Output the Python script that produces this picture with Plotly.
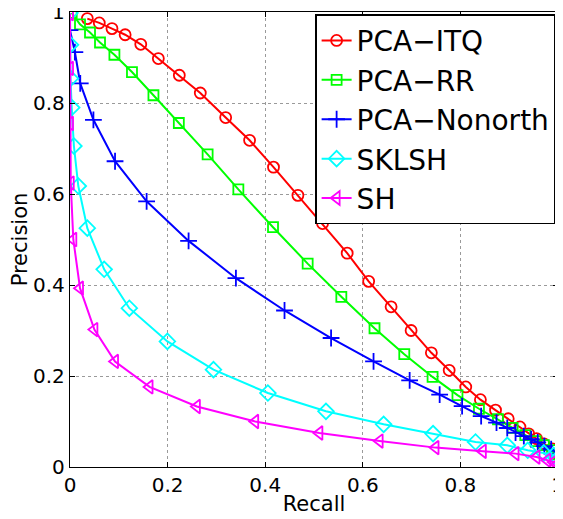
import plotly.graph_objects as go

# ---- data ----
itq_recall = [0.0355, 0.060, 0.086, 0.113, 0.145, 0.181, 0.224, 0.267, 0.319, 0.368, 0.417, 0.467,
              0.5175, 0.568, 0.612, 0.658, 0.699, 0.7405, 0.777, 0.811, 0.841, 0.872, 0.898, 0.922,
              0.940, 0.956, 0.971, 0.988, 1.0]
itq_prec = [0.9855, 0.976, 0.9635, 0.950, 0.929, 0.8976, 0.861, 0.822, 0.768, 0.718, 0.659, 0.597,
            0.535, 0.470, 0.408, 0.352, 0.300, 0.251, 0.2125, 0.176, 0.148, 0.125, 0.106, 0.088,
            0.073, 0.0624, 0.051, 0.040, 0.029]

rr_recall = [0.0035, 0.0205, 0.041, 0.0615, 0.091, 0.127, 0.171, 0.223, 0.282, 0.345, 0.416, 0.487,
             0.556, 0.624, 0.685, 0.743, 0.794, 0.838, 0.877, 0.907, 0.933, 0.954, 0.971, 0.988, 1.0]
rr_prec = [0.998, 0.973, 0.955, 0.933, 0.906, 0.868, 0.817, 0.756, 0.687, 0.610, 0.527, 0.447,
           0.374, 0.305, 0.248, 0.198, 0.158, 0.128, 0.105, 0.086, 0.070, 0.057, 0.048, 0.037, 0.028]

nonorth_recall = [0.0, 0.010, 0.021, 0.048, 0.0923, 0.157, 0.243, 0.340, 0.4396, 0.535, 0.622, 0.696,
                  0.7575, 0.8035, 0.8425, 0.874, 0.896, 0.913, 0.930, 0.945, 0.9585, 0.972, 0.986, 1.0]
nonorth_prec = [0.960, 0.912, 0.843, 0.763, 0.672, 0.584, 0.497, 0.415, 0.344, 0.2835, 0.232, 0.1905,
                0.159, 0.134, 0.112, 0.0976, 0.0857, 0.0756, 0.068, 0.061, 0.054, 0.046, 0.039, 0.028]

sklsh_recall = [0.0, 0.001, 0.001, 0.0035, 0.008, 0.017, 0.0355, 0.070, 0.1216, 0.1996, 0.294, 0.4055,
                0.5245, 0.6427, 0.744, 0.831, 0.896, 0.938, 0.971, 0.991, 1.0]
sklsh_prec = [0.998, 0.928, 0.854, 0.790, 0.7055, 0.6176, 0.525, 0.4345, 0.349, 0.276, 0.214, 0.1626,
              0.1224, 0.0938, 0.0734, 0.055, 0.0477, 0.0367, 0.031, 0.0257, 0.019]

sh_recall = [0.0, 0.0, 0.0, 0.0015, 0.0068, 0.0205, 0.050, 0.0923, 0.163, 0.260, 0.3795,
             0.511, 0.6345, 0.749, 0.846, 0.913, 0.956, 0.978, 0.991, 1.0]
sh_prec = [0.9965, 0.876, 0.755, 0.624, 0.500, 0.393, 0.302, 0.232, 0.176, 0.133, 0.100,
           0.0747, 0.057, 0.0426, 0.0345, 0.0294, 0.022, 0.0147, 0.011, 0.008]

x_tick_vals = [0, 0.2, 0.4, 0.6, 0.8, 0.999]
y_tick_vals = [0, 0.2, 0.4, 0.6, 0.8, 1]
tick_text = ["0", "0.2", "0.4", "0.6", "0.8", "1"]

series = [
    ("PCA\u2212ITQ", itq_recall, itq_prec, "#FF0000", "circle-open", 11),
    ("PCA\u2212RR", rr_recall, rr_prec, "#00FF00", "square-open", 10),
    ("PCA\u2212Nonorth", nonorth_recall, nonorth_prec, "#0000FF", "cross-thin-open", 12),
    ("SKLSH", sklsh_recall, sklsh_prec, "#00FFFF", "diamond-open", 12),
    ("SH", sh_recall, sh_prec, "#FF00FF", "triangle-left-open", 12),
]

FONT = "DejaVu Sans, Liberation Sans, sans-serif"

fig = go.Figure()
for name, xs, ys, color, sym, size in series:
    fig.add_trace(go.Scatter(
        x=xs, y=ys, name=name, mode="lines+markers",
        line=dict(color=color, width=2),
        marker=dict(symbol=sym, size=size, color=color, line=dict(color=color, width=1.8)),
    ))

axis_common = dict(
    range=[0, 1], ticktext=tick_text,
    showline=True, linecolor="black", linewidth=1.3, mirror="ticks",
    ticks="inside", ticklen=5, tickcolor="black",
    showgrid=True, gridcolor="#9a9a9a", griddash="dot", gridwidth=1,
    zeroline=False, tickfont=dict(family=FONT, size=20, color="black"),
    automargin=False, ticklabeloverflow="allow",
)

fig.update_xaxes(**axis_common, tickvals=x_tick_vals,
                 title=dict(text="Recall", font=dict(family=FONT, size=21, color="black"), standoff=0))
fig.update_yaxes(**axis_common, tickvals=y_tick_vals,
                 title=dict(text="Precision", font=dict(family=FONT, size=21, color="black"), standoff=0))

# the page body adds an 8px offset; margins are chosen so the plot box lands at
# x 70..558 and y 12..467 in the window
fig.update_layout(
    width=563, height=519,
    margin=dict(l=62, r=13, t=4, b=60),
    plot_bgcolor="white", paper_bgcolor="white",
    font=dict(family=FONT, color="black"),
    legend=dict(
        x=0.9945, y=0.9946, xanchor="right", yanchor="top",
        bgcolor="white", bordercolor="black", borderwidth=1.3,
        font=dict(family=FONT, size=28, color="black"),
        itemwidth=30, tracegroupgap=0,
    ),
    showlegend=True,
)

fig.write_html("out.html")
